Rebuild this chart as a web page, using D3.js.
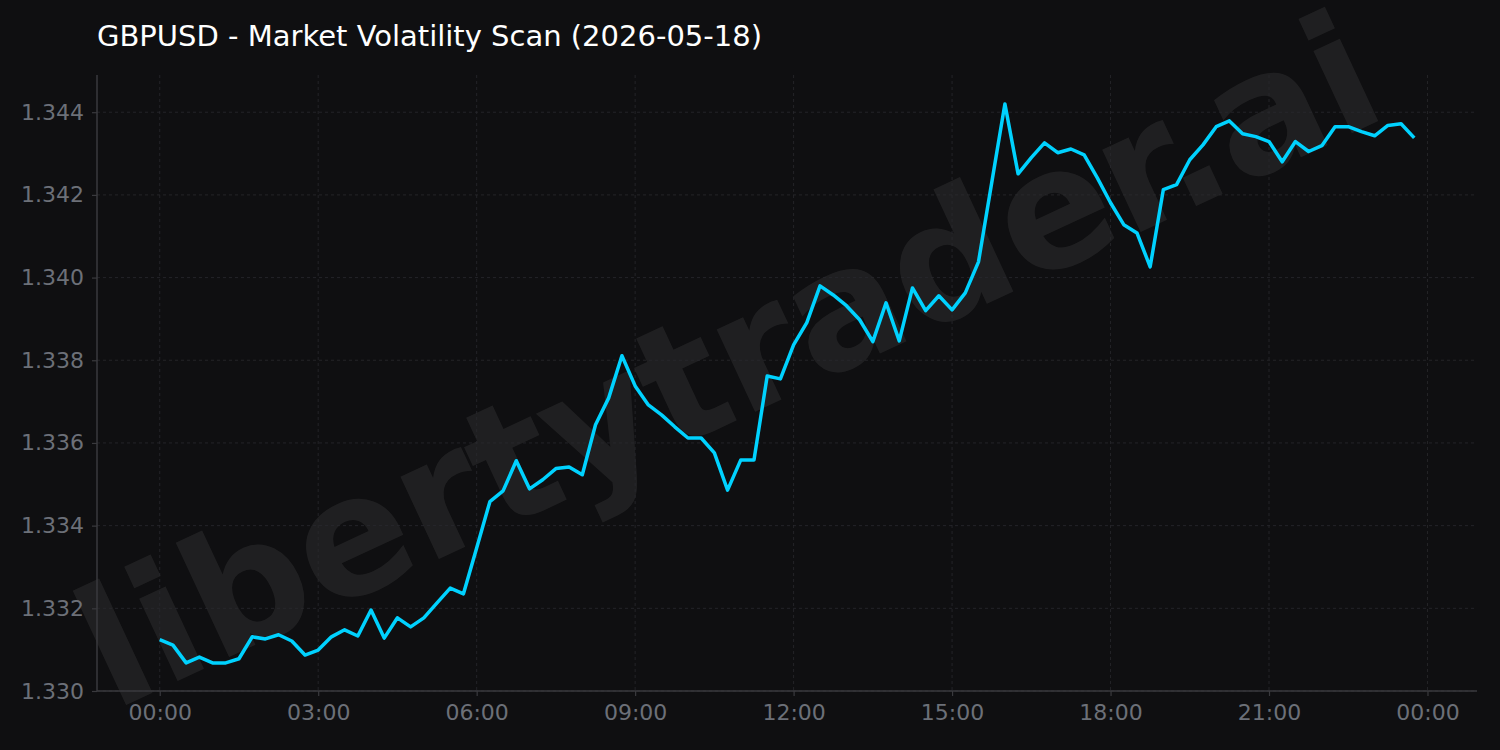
<!DOCTYPE html>
<html>
<head>
<meta charset="utf-8">
<script src="https://cdn.jsdelivr.net/npm/d3@7"></script>
<style>
  html, body { margin: 0; padding: 0; background: #0f0f11; }
  svg { display: block; }
</style>
</head>
<body>
<svg id="chart" width="1500" height="750"></svg>
<script>
// ---- data ----
const titleText = "GBPUSD - Market Volatility Scan (2026-05-18)";
const watermarkText = "libertytrader.ai";
const sessionDate = "2026-05-18";
const intervalMinutes = 15;
const prices = [
  1.33124, 1.33111, 1.33068, 1.33082, 1.33068, 1.33068, 1.33078, 1.33131,
  1.33126, 1.33136, 1.33121, 1.33087, 1.33099, 1.33131, 1.33148, 1.33133,
  1.33196, 1.33128, 1.33177, 1.33155, 1.33177, 1.33213, 1.33249, 1.33235,
  1.33346, 1.33458, 1.33484, 1.33557, 1.33489, 1.33511, 1.33538, 1.33542,
  1.33523, 1.33644, 1.33709, 1.33811, 1.33738, 1.33692, 1.33668, 1.33639,
  1.33612, 1.33612, 1.33576, 1.33486, 1.33559, 1.33559, 1.33762, 1.33755,
  1.33837, 1.33891, 1.33980, 1.33958, 1.33932, 1.33898, 1.33845, 1.33939,
  1.33847, 1.33975, 1.33920, 1.33956, 1.33922, 1.33963, 1.34038, 1.34229,
  1.34420, 1.34251, 1.34290, 1.34326, 1.34302, 1.34311, 1.34297, 1.34241,
  1.34181, 1.34128, 1.34108, 1.34026, 1.34213, 1.34225, 1.34285, 1.34321,
  1.34365, 1.34379, 1.34348, 1.34341, 1.34329, 1.34280, 1.34329, 1.34305,
  1.34319, 1.34365, 1.34365, 1.34353, 1.34343, 1.34368, 1.34372, 1.34338
];
const yTicks = [1.330, 1.332, 1.334, 1.336, 1.338, 1.340, 1.342, 1.344];
const yDomain = [1.330, 1.3449];
const xTickHours = 3;

// ---- layout ----
const W = 1500, H = 750;
const plot = { left: 97, right: 1477, top: 75, bottom: 691 };
const bg = "#0f0f11";

const start = new Date(sessionDate + "T00:00:00");
const data = prices.map((p, i) => ({ t: d3.timeMinute.offset(start, i * intervalMinutes), v: p }));
const t0 = data[0].t, t1 = data[data.length - 1].t;
const pad = (t1 - t0) * 0.05;

const x = d3.scaleTime().domain([new Date(+t0 - pad), new Date(+t1 + pad)]).range([plot.left, plot.right]);
const y = d3.scaleLinear().domain(yDomain).range([plot.bottom, plot.top]);

const svg = d3.select("#chart");
svg.append("rect").attr("width", W).attr("height", H).attr("fill", bg);

// watermark
svg.append("text")
  .attr("transform", "translate(733,372) rotate(-25)")
  .attr("text-anchor", "middle")
  .attr("dominant-baseline", "middle")
  .attr("font-family", "DejaVu Sans")
  .attr("font-weight", "bold")
  .attr("font-size", 166)
  .attr("fill", "#ffffff")
  .attr("fill-opacity", 0.07)
  .text(watermarkText);

// grid
const xTickVals = d3.timeHour.every(xTickHours).range(t0, d3.timeHour.offset(t0, 24 + 1));
const grid = svg.append("g");
grid.selectAll(".gx").data(xTickVals).join("line")
  .attr("x1", d => x(d)).attr("x2", d => x(d))
  .attr("y1", plot.top).attr("y2", plot.bottom)
  .attr("stroke", "#2a2a2e").attr("stroke-width", 0.8).attr("stroke-dasharray", "3,3");
grid.selectAll(".gy").data(yTicks).join("line")
  .attr("x1", plot.left).attr("x2", plot.right)
  .attr("y1", d => y(d)).attr("y2", d => y(d))
  .attr("stroke", "#2a2a2e").attr("stroke-width", 0.8).attr("stroke-dasharray", "3,3");

// axes
const axisColor = "#3a3a3e";
const labelColor = "#6c7078";
const xAxis = svg.append("g").attr("transform", `translate(0,${plot.bottom})`)
  .call(d3.axisBottom(x).tickValues(xTickVals).tickFormat(d3.timeFormat("%H:%M")).tickSize(5).tickSizeOuter(0).tickPadding(8));
const yAxis = svg.append("g").attr("transform", `translate(${plot.left},0)`)
  .call(d3.axisLeft(y).tickValues(yTicks).tickFormat(d3.format(".3f")).tickSize(5).tickSizeOuter(0).tickPadding(8));
[xAxis, yAxis].forEach(a => {
  a.select(".domain").attr("stroke", axisColor).attr("stroke-width", 1.5);
  a.selectAll(".tick line").attr("stroke", axisColor).attr("stroke-width", 1.2);
  a.selectAll(".tick text").attr("fill", labelColor)
    .attr("font-family", "DejaVu Sans").attr("font-size", 22);
});
xAxis.select(".domain").attr("d", `M${plot.left},0H${plot.right}`);
yAxis.select(".domain").attr("d", `M0,${plot.top}V${plot.bottom}`);

// line
svg.append("path").datum(data)
  .attr("fill", "none")
  .attr("stroke", "#00d2ff")
  .attr("stroke-width", 3.5)
  .attr("stroke-linejoin", "round")
  .attr("d", d3.line().x(d => x(d.t)).y(d => y(d.v)));

// title
svg.append("text")
  .attr("x", 97).attr("y", 46)
  .attr("font-family", "DejaVu Sans")
  .attr("font-size", 29)
  .attr("fill", "#ffffff")
  .text(titleText);
</script>
</body>
</html>
